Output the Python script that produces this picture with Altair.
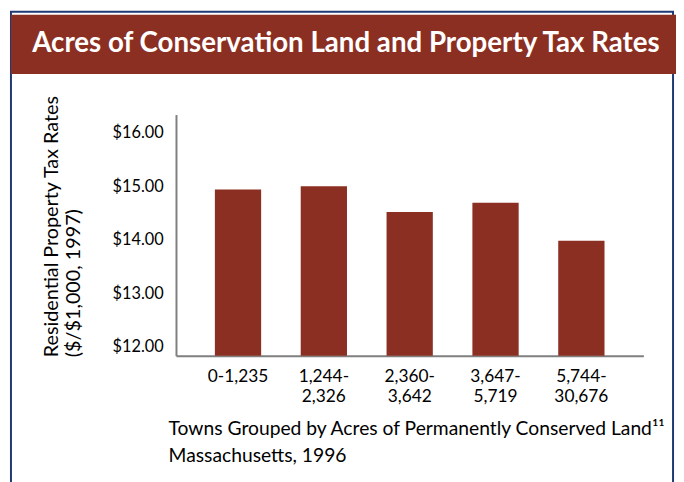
import altair as alt
import pandas as pd

# ---- data ----
categories = ["0-1,235", "1,244- 2,326", "2,360- 3,642", "3,647- 5,719", "5,744- 30,676"]
tax_rates = [14.94, 15.00, 14.52, 14.69, 13.98]
y_ticks = [12, 13, 14, 15, 16]
title_text = "Acres of Conservation Land and Property Tax Rates"
y_title = ["Residential Property Tax Rates", "($/$1,000, 1997)"]
x_title = ["Towns Grouped by Acres of Permanently Conserved Land\u00b9\u00b9", "Massachusetts, 1996"]

# ---- style ----
Y_MIN, Y_MAX = 11.834, 16.34
W, H = 473, 244
FONT = "Lato"
RED = "#8B2F22"
NAVY = "#1F3A73"
GREY = "#7F7F7F"

df = pd.DataFrame({"group": categories, "rate": tax_rates})
one = pd.DataFrame({"k": [0]})

frame = alt.Chart(one).mark_rect(fillOpacity=0, stroke=NAVY, strokeWidth=2).encode(
    x=alt.value(-167), x2=alt.value(503), y=alt.value(-104), y2=alt.value(420)
)
banner = alt.Chart(one).mark_rect(color=RED).encode(
    x=alt.value(-167), x2=alt.value(506), y=alt.value(-101), y2=alt.value(-41)
)
title = alt.Chart(one).mark_text(
    text=title_text, font=FONT, fontSize=28, fontWeight="bold", color="white",
    align="center", baseline="alphabetic"
).encode(x=alt.value(172), y=alt.value(-63))

bars = alt.Chart(df).mark_bar(color=RED).encode(
    x=alt.X(
        "group:N", sort=categories,
        scale=alt.Scale(paddingInner=0.461, paddingOuter=0.453),
        axis=alt.Axis(
            title=x_title, labelExpr="split(datum.label, ' ')", labelAngle=0,
            labelFont=FONT, labelFontSize=17.5, labelColor="black", labelPadding=12,
            labelLineHeight=20, ticks=False, domainColor=GREY, domainWidth=2,
            titleFont=FONT, titleFontSize=19.5, titleFontWeight="normal", titleColor="black",
            titleAlign="left", titleBaseline="alphabetic", titleX=-8, titleY=80,
            titleLineHeight=27, titleAngle=0,
        ),
    ),
    y=alt.Y(
        "rate:Q",
        scale=alt.Scale(domain=[Y_MIN, Y_MAX], nice=False, zero=False),
        axis=alt.Axis(
            values=y_ticks, format="$.2f", grid=False, ticks=False, labelFlush=False,
            labelFont=FONT, labelFontSize=16.5, labelColor="black", labelPadding=13,
            domainColor=GREY, domainWidth=2,
            title=y_title, titleFont=FONT, titleFontSize=20, titleFontWeight="normal",
            titleColor="black", titleAngle=270, titleAlign="left", titleBaseline="alphabetic",
            titleX=-120, titleY=245, titleLineHeight=22,
        ),
    ),
    y2=alt.Y2(datum=Y_MIN),
)

chart = alt.layer(frame, banner, title, bars).properties(
    width=W, height=H,
    padding={"left": 170, "top": 105, "right": 33, "bottom": 125},
    autosize=alt.AutoSizeParams(type="none"),
    background="white",
).configure_view(strokeWidth=0)

chart.save("out.html", embed_options={"renderer": "svg", "actions": False})
